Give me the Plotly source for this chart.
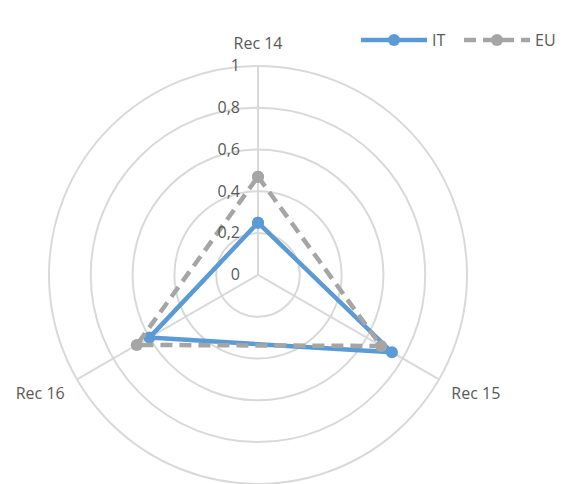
import plotly.graph_objects as go

# Axes of the radar, clockwise from the top
categories = ["Rec 14", "Rec 15", "Rec 16"]

# Scores per recommendation
it_values = [0.25, 0.74, 0.60]
eu_values = [0.47, 0.68, 0.67]

radial_ticks = [0, 0.2, 0.4, 0.6, 0.8, 1]


def closed(seq):
    return list(seq) + [seq[0]]


fig = go.Figure()
fig.add_trace(go.Scatterpolar(
    r=closed(it_values), theta=closed(categories), name="IT",
    mode="lines+markers",
    line=dict(color="#5b9bd5", width=4.5),
    marker=dict(color="#5b9bd5", size=12),
))
fig.add_trace(go.Scatterpolar(
    r=closed(eu_values), theta=closed(categories), name="EU",
    mode="lines+markers",
    line=dict(color="#a5a5a5", width=4.5, dash="12px,7px"),
    marker=dict(color="#a5a5a5", size=12),
))

grid = "#d9d9d9"
fig.update_layout(
    width=562, height=484,
    margin=dict(l=0, r=0, t=0, b=0),
    paper_bgcolor="white",
    separators=", ",
    font=dict(family="Open Sans", size=16, color="#595959"),
    polar=dict(
        domain=dict(x=[0.0872, 0.8310], y=[0.0, 0.864]),
        bgcolor="white",
        radialaxis=dict(
            range=[0, 1], tickvals=radial_ticks, angle=90, tickangle=90,
            side="counterclockwise",
            showline=False, ticks="outside", ticklen=12,
            tickcolor="rgba(0,0,0,0)", gridcolor=grid, gridwidth=2,
            tickformat=".1~f",
            tickfont=dict(size=16, color="#595959"),
        ),
        angularaxis=dict(
            categoryorder="array", categoryarray=categories,
            rotation=90, direction="clockwise",
            linecolor=grid, linewidth=2, gridcolor=grid, gridwidth=2,
            ticks="outside", ticklen=10, tickcolor="rgba(0,0,0,0)",
            tickfont=dict(size=16, color="#595959"),
        ),
    ),
    showlegend=True,
    legend=dict(
        orientation="h", x=1.0, xanchor="right", y=0.917, yanchor="middle",
        font=dict(size=16, color="#595959"), itemwidth=66, entrywidth=22,
        bgcolor="rgba(0,0,0,0)",
    ),
)

fig.write_html("out.html")
